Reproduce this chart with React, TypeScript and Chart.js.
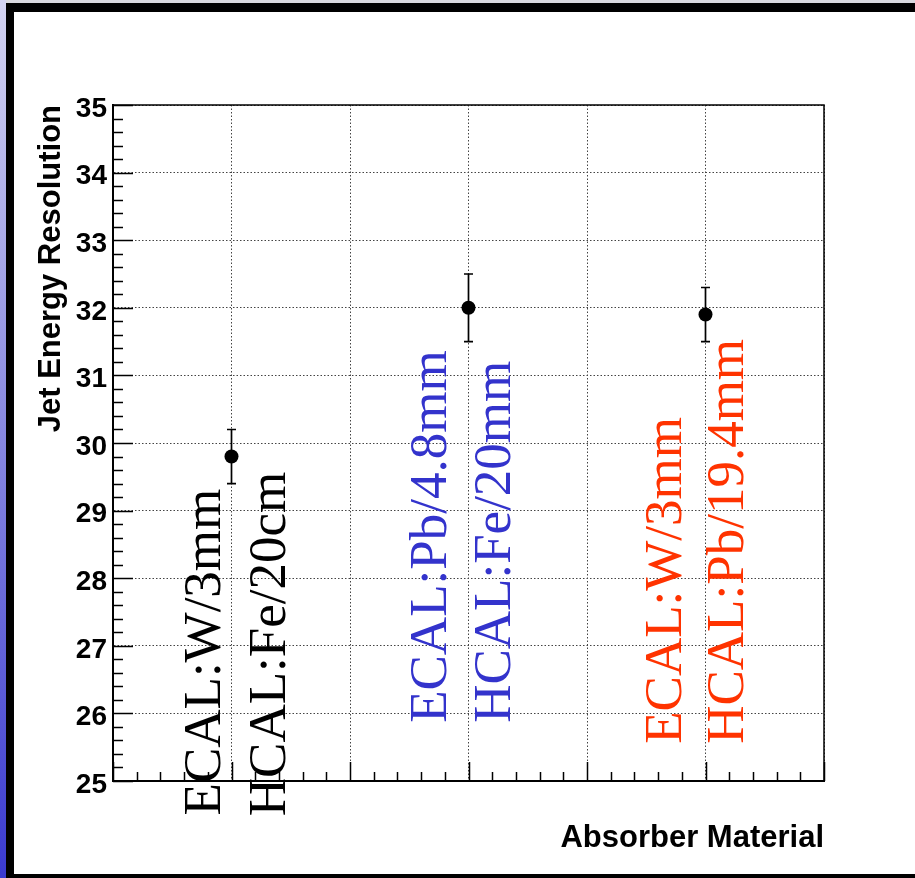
import React, { useEffect, useRef } from 'react';
import { Chart, registerables } from 'chart.js';

Chart.register(...registerables);

// ---- data ----
const categories = [1, 3, 5]; // x positions of the three absorber configurations
const resolution = [29.8, 32.0, 31.9];
const errUp = [0.4, 0.5, 0.4];
const errDown = [0.4, 0.5, 0.4];
const yTicks = [25, 26, 27, 28, 29, 30, 31, 32, 33, 34, 35];
const xTicks = [0, 1, 2, 3, 4, 5, 6];

// annotation texts, anchored (start of text) in data coordinates
const labelTexts = ['ECAL:W/3mm', 'HCAL:Fe/20cm', 'ECAL:Pb/4.8mm', 'HCAL:Fe/20mm', 'ECAL:W/3mm', 'HCAL:Pb/19.4mm'];
const labelAtX = [0.9, 1.45, 2.81, 3.35, 4.79, 5.32];
const labelAtY = [24.49, 24.48, 25.86, 25.86, 25.55, 25.55];

const LABEL_COLORS = ['#000000', '#000000', '#3333cc', '#3333cc', '#ff3300', '#ff3300'];
const SANS = '"Liberation Sans", Arial, Helvetica, sans-serif';
const SERIF = '"Liberation Serif", "Times New Roman", Times, serif';

const framePlugin = {
  id: 'frame',
  beforeDraw(chart: any) {
    const ctx = chart.ctx;
    const W = chart.width;
    const H = chart.height;
    ctx.save();
    ctx.fillStyle = '#ffffff';
    ctx.fillRect(0, 0, W, H);
    ctx.fillStyle = '#d8d8de';
    ctx.fillRect(0, 0, W, 4);
    const g = ctx.createLinearGradient(0, 0, 0, H);
    g.addColorStop(0, '#d4d4f2');
    g.addColorStop(1, '#3a3ad0');
    ctx.fillStyle = g;
    ctx.fillRect(0, 0, 6, H);
    ctx.fillStyle = '#000000';
    ctx.fillRect(6, 3, W - 6, 9);
    ctx.fillRect(6, 3, 8, H - 3);
    ctx.fillRect(6, 874, W - 6, 4);
    ctx.restore();
  },
  beforeDatasetsDraw(chart: any) {
    const { ctx, scales } = chart;
    const x = scales.x;
    const y = scales.y;
    ctx.save();
    ctx.strokeStyle = '#000000';
    ctx.lineWidth = 1.7;
    categories.forEach((c, i) => {
      const px = x.getPixelForValue(c);
      const top = y.getPixelForValue(resolution[i] + errUp[i]);
      const bot = y.getPixelForValue(resolution[i] - errDown[i]);
      ctx.beginPath();
      ctx.moveTo(px, top);
      ctx.lineTo(px, bot);
      ctx.moveTo(px - 4.5, top);
      ctx.lineTo(px + 4.5, top);
      ctx.moveTo(px - 4.5, bot);
      ctx.lineTo(px + 4.5, bot);
      ctx.stroke();
    });
    ctx.restore();
  },
  afterDatasetsDraw(chart: any) {
    const { ctx, chartArea: a, scales } = chart;
    const x = scales.x;
    const y = scales.y;
    ctx.save();
    // top and right frame
    ctx.strokeStyle = '#000000';
    ctx.lineWidth = 1.5;
    ctx.beginPath();
    ctx.moveTo(a.left, a.top);
    ctx.lineTo(a.right, a.top);
    ctx.lineTo(a.right, a.bottom);
    ctx.stroke();
    // inward ticks on y axis
    ctx.lineWidth = 1.5;
    ctx.beginPath();
    for (let i = 0; i < yTicks.length; i++) {
      const v0 = yTicks[i];
      const py = Math.round(y.getPixelForValue(v0)) + 0.5;
      ctx.moveTo(a.left, py);
      ctx.lineTo(a.left + 20, py);
      if (i < yTicks.length - 1) {
        const step = (yTicks[i + 1] - v0) / 5;
        for (let k = 1; k < 5; k++) {
          const pm = Math.round(y.getPixelForValue(v0 + k * step)) + 0.5;
          ctx.moveTo(a.left, pm);
          ctx.lineTo(a.left + 10, pm);
        }
      }
    }
    // inward ticks on x axis
    for (let i = 0; i < xTicks.length; i++) {
      const v0 = xTicks[i];
      const px = Math.round(x.getPixelForValue(v0)) + 0.5;
      ctx.moveTo(px, a.bottom);
      ctx.lineTo(px, a.bottom - 19);
      if (i < xTicks.length - 1) {
        const step = (xTicks[i + 1] - v0) / 5;
        for (let k = 1; k < 5; k++) {
          const pm = Math.round(x.getPixelForValue(v0 + k * step)) + 0.5;
          ctx.moveTo(pm, a.bottom);
          ctx.lineTo(pm, a.bottom - 9);
        }
      }
    }
    ctx.stroke();
    // rotated annotations
    ctx.font = `53px ${SERIF}`;
    ctx.textAlign = 'left';
    ctx.textBaseline = 'alphabetic';
    labelTexts.forEach((t, i) => {
      const px = x.getPixelForValue(labelAtX[i]);
      const py = y.getPixelForValue(labelAtY[i]);
      ctx.save();
      ctx.translate(px, py);
      ctx.rotate(-Math.PI / 2);
      ctx.fillStyle = LABEL_COLORS[i];
      ctx.fillText(t, 0, 0);
      ctx.restore();
    });
    ctx.restore();
  },
};

export default function App() {
  const ref = useRef<HTMLCanvasElement | null>(null);

  useEffect(() => {
    if (!ref.current) return;
    const gridOpts = { display: true, color: '#444444', lineWidth: 1, drawTicks: false };
    const chart = new Chart(ref.current, {
      type: 'scatter',
      data: {
        datasets: [
          {
            data: categories.map((c, i) => ({ x: c, y: resolution[i] })),
            pointRadius: 7,
            pointHoverRadius: 7,
            pointBackgroundColor: '#000000',
            pointBorderColor: '#000000',
            pointBorderWidth: 0,
            showLine: false,
          },
        ],
      },
      options: {
        animation: false,
        responsive: false,
        events: [],
        layout: { padding: { left: 13, top: 105, right: 91, bottom: 0 } },
        plugins: { legend: { display: false }, tooltip: { enabled: false } },
        scales: {
          x: {
            type: 'linear',
            min: xTicks[0],
            max: xTicks[xTicks.length - 1],
            ticks: { display: false, stepSize: 1 },
            grid: gridOpts,
            border: { display: true, color: '#000000', width: 2, dash: [1.5, 2] },
            title: {
              display: true,
              text: 'Absorber Material',
              align: 'end',
              color: '#000000',
              font: { family: SANS, size: 31, weight: 'bold' },
              padding: { top: 0, bottom: 21 },
            },
            afterFit: (s: any) => {
              s.height = 97;
            },
          },
          y: {
            type: 'linear',
            min: yTicks[0],
            max: yTicks[yTicks.length - 1],
            ticks: {
              stepSize: 1,
              color: '#000000',
              font: { family: SANS, size: 28, weight: 'bold' },
              padding: 6,
              labelOffset: 4,
            },
            grid: gridOpts,
            border: { display: true, color: '#000000', width: 2, dash: [1.5, 2] },
            title: {
              display: true,
              text: 'Jet Energy Resolution',
              align: 'end',
              color: '#000000',
              font: { family: SANS, size: 31, weight: 'bold' },
              padding: { top: 20, bottom: 0 },
            },
            afterFit: (s: any) => {
              s.width = 100;
            },
          },
        },
      },
      plugins: [framePlugin],
    } as any);
    return () => chart.destroy();
  }, []);

  return (
    <div style={{ position: 'fixed', left: 0, top: 0, width: 915, height: 878 }}>
      <canvas ref={ref} width={915} height={878} />
    </div>
  );
}
